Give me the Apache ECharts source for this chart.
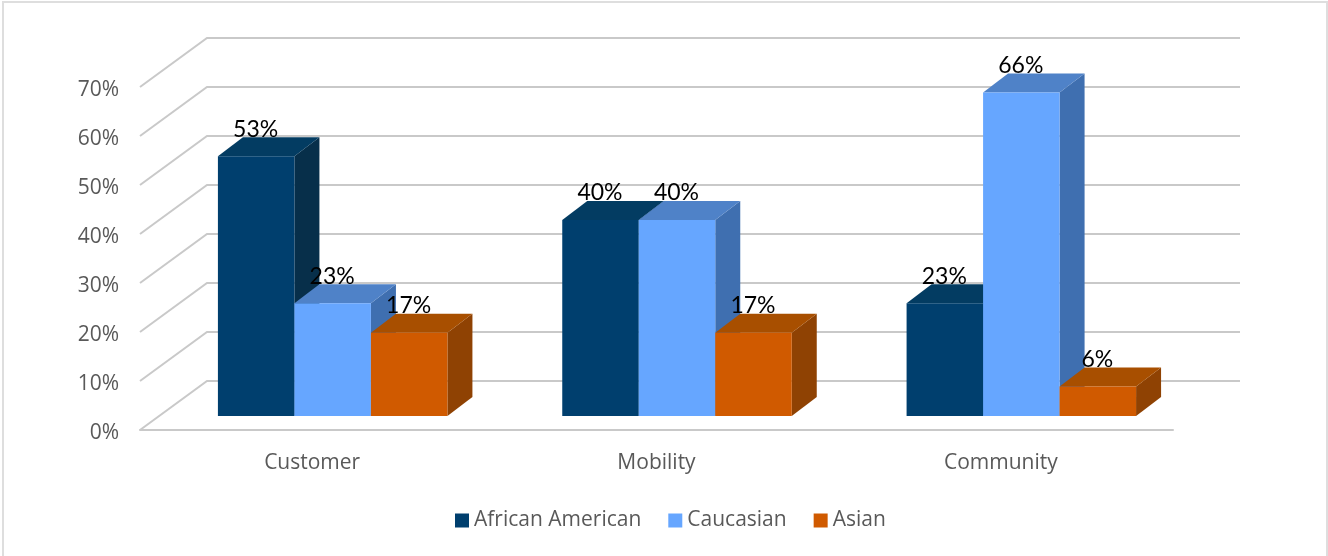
<!DOCTYPE html>
<html><head><meta charset="utf-8">
<style>html,body{margin:0;padding:0;background:#fff}#c{width:1328px;height:556px}</style>
<script src="https://cdn.jsdelivr.net/npm/echarts@6/dist/echarts.min.js"></script>
</head><body><div id="c"></div>
<script>
var categories = ['Customer', 'Mobility', 'Community'];
var africanAmerican = [53, 40, 23];
var caucasian = [23, 40, 66];
var asian = [17, 17, 6];
var yTicks = [0, 10, 20, 30, 40, 50, 60, 70];

var WALL_DX = 67, WALL_DY = -49;
var BAR_DX = 25, BAR_DY = -19;
var BAR_SHIFT_X = 20.5, BAR_SHIFT_Y = -14, BAR_W = 76.5;

var wallRender = function (params, api) {
  var p = api.coord([0, api.value(0)]);
  var cs = params.coordSys;
  var x0 = cs.x, x1 = cs.x + cs.width, y = p[1];
  var st = { stroke: '#c9c9c9', lineWidth: 2, fill: null };
  return {
    type: 'group', children: [
      { type: 'polyline', shape: { points: [[x0, y], [x0 + WALL_DX, y + WALL_DY], [x1 + WALL_DX, y + WALL_DY]] }, style: st }
    ]
  };
};

function barRenderer(idx, cols) {
  return function (params, api) {
    var cat = api.value(0), val = api.value(1);
    var base = api.coord([cat, 0]), top = api.coord([cat, val]);
    var left = base[0] + BAR_SHIFT_X - 1.5 * BAR_W + idx * BAR_W, right = left + BAR_W;
    var yb = base[1] + BAR_SHIFT_Y, yt = top[1] + BAR_SHIFT_Y;
    return {
      type: 'group', children: [
        { type: 'polygon', shape: { points: [[right, yt], [right + BAR_DX, yt + BAR_DY], [right + BAR_DX, yb + BAR_DY], [right, yb]] }, style: { fill: cols.side } },
        { type: 'polygon', shape: { points: [[left, yt], [left + BAR_DX, yt + BAR_DY], [right + BAR_DX, yt + BAR_DY], [right, yt]] }, style: { fill: cols.top } },
        { type: 'rect', shape: { x: left, y: yt, width: BAR_W, height: yb - yt }, style: { fill: cols.front } },
        { type: 'text', z2: 100, style: { text: val + '%', x: left + BAR_W / 2 - 0.5, y: yt - 27, align: 'center', verticalAlign: 'middle', fill: '#000', font: '23px Lato, sans-serif' } }
      ]
    };
  };
}

function barData(values) { return values.map(function (v, i) { return [i, v]; }); }

function barSeries(name, values, idx, cols) {
  return { type: 'custom', name: name, clip: false, z: 5 + idx, itemStyle: { color: cols.front },
    renderItem: barRenderer(idx, cols), encode: { x: 0, y: 1 }, data: barData(values) };
}

var chart = echarts.init(document.getElementById('c'), null, { renderer: 'canvas' });
chart.setOption({
  animation: false,
  backgroundColor: '#fff',
  textStyle: { fontFamily: '"Open Sans", sans-serif' },
  graphic: [{ type: 'polyline', silent: true, shape: { points: [[3, 556], [3, 2], [1327, 2], [1327, 556]] }, style: { stroke: '#dedede', lineWidth: 2, fill: null } }],
  grid: { left: 140, top: 87, width: 1033, height: 343 },
  xAxis: { type: 'category', data: categories, axisTick: { show: false },
    axisLine: { lineStyle: { color: '#c9c9c9', width: 2 } },
    axisLabel: { color: '#595959', fontSize: 21, margin: 23, fontFamily: '"Open Sans", sans-serif' } },
  yAxis: { type: 'value', min: 0, max: 70, interval: 10, splitLine: { show: false },
    axisLine: { show: false }, axisTick: { show: false },
    axisLabel: { color: '#595959', fontSize: 21, margin: 21, verticalAlign: 'top', lineHeight: 7, formatter: '{value}%', fontFamily: '"Open Sans", sans-serif' } },
  legend: { left: 450, top: 505, itemWidth: 14, itemHeight: 14, itemGap: 27, icon: 'rect',
    textStyle: { color: '#595959', fontSize: 21, fontFamily: '"Open Sans", sans-serif' },
    data: ['African American', 'Caucasian', 'Asian'] },
  series: [
    { type: 'custom', name: 'wall', silent: true, clip: false, z: 1, renderItem: wallRender, encode: { y: 0 },
      data: yTicks.map(function (t) { return [t]; }) },
    barSeries('African American', africanAmerican, 0, { front: '#003f6e', top: '#033c62', side: '#072f4a' }),
    barSeries('Caucasian', caucasian, 1, { front: '#66a6ff', top: '#4f82c8', side: '#3f6fb0' }),
    barSeries('Asian', asian, 2, { front: '#d05a00', top: '#a84f00', side: '#8f4203' })
  ]
});
</script></body></html>
